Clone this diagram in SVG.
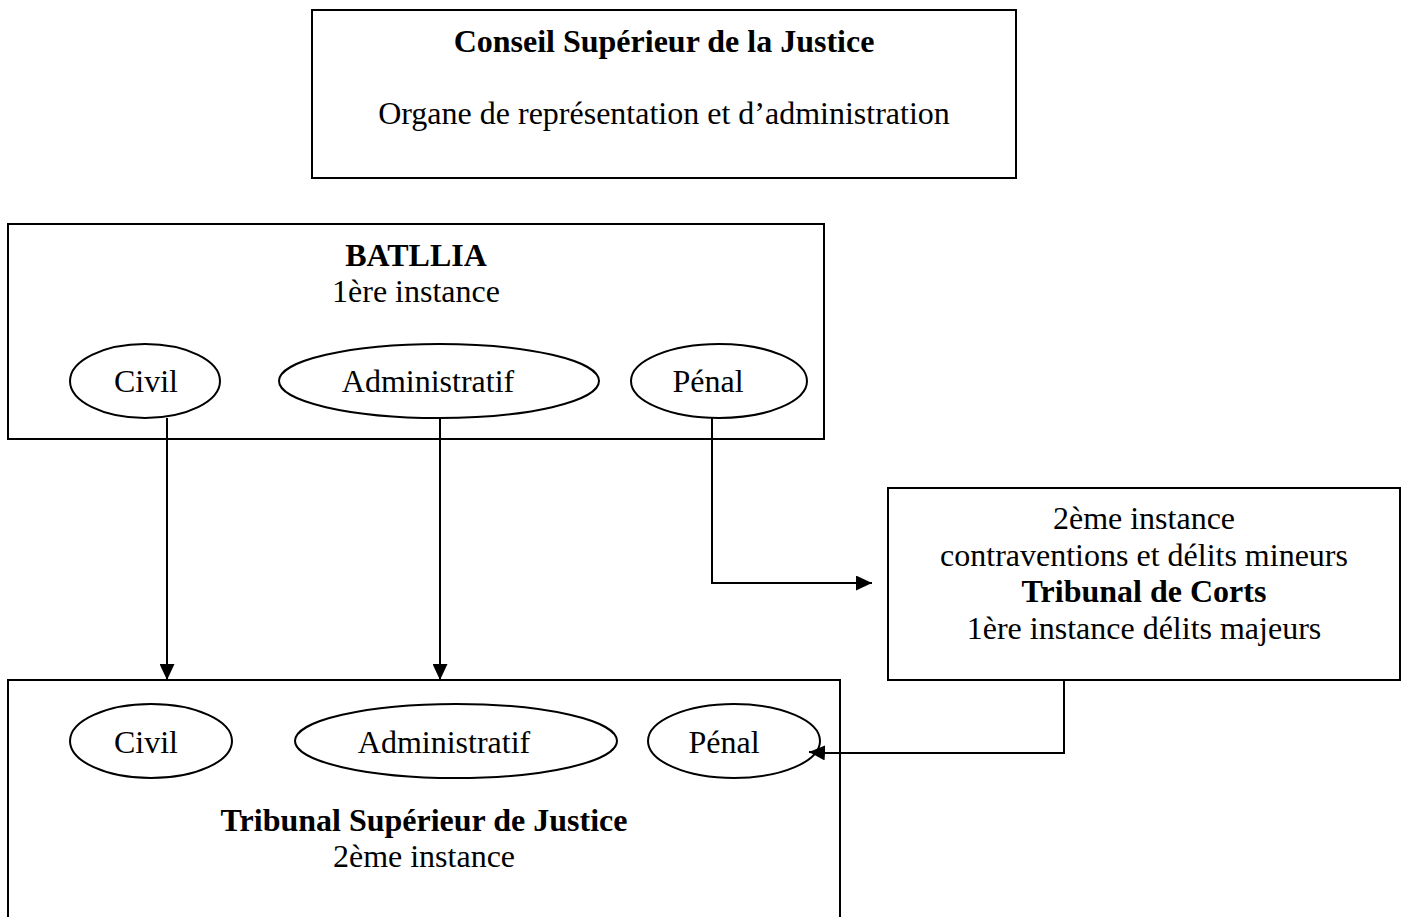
<svg xmlns="http://www.w3.org/2000/svg" width="1405" height="917" viewBox="0 0 1405 917">
<style>
.box{fill:#fff;stroke:#000;stroke-width:2}
.ell{fill:#fff;stroke:#000;stroke-width:2}
text{font-family:"Liberation Serif","Times New Roman",serif;font-size:32px;fill:#000;text-anchor:middle}
.b{font-weight:bold}
.con{fill:none;stroke:#000;stroke-width:2}
</style>
<defs>
<marker id="arr" viewBox="0 0 16 15" refX="16" refY="7.5" markerWidth="16" markerHeight="15" markerUnits="userSpaceOnUse" orient="auto">
<path d="M0,0 L16,7.5 L0,15 z" fill="#000"/>
</marker>
</defs>
<rect width="1405" height="917" fill="#fff"/>
<g id="conseil">
<rect class="box" x="312" y="10" width="704" height="168"/>
<text class="b" x="664" y="52">Conseil Supérieur de la Justice</text>
<text x="664" y="124">Organe de représentation et d’administration</text>
</g>
<g id="batllia">
<rect class="box" x="8" y="224" width="816" height="215"/>
<text class="b" x="416" y="266">BATLLIA</text>
<text x="416" y="302">1ère instance</text>
</g>
<g id="batllia-civil">
<ellipse class="ell" cx="145" cy="381" rx="75" ry="37"/>
<text x="146" y="392">Civil</text>
</g>
<g id="batllia-admin">
<ellipse class="ell" cx="439" cy="381" rx="160" ry="37"/>
<text x="428" y="392">Administratif</text>
</g>
<g id="batllia-penal">
<ellipse class="ell" cx="719" cy="381" rx="88" ry="37"/>
<text x="708" y="392">Pénal</text>
</g>
<g id="corts">
<rect class="box" x="888" y="488" width="512" height="192"/>
<text x="1144" y="529">2ème instance</text>
<text x="1144" y="566">contraventions et délits mineurs</text>
<text class="b" x="1144" y="602">Tribunal de Corts</text>
<text x="1144" y="639">1ère instance délits majeurs</text>
</g>
<g id="tsj">
<rect class="box" x="8" y="680" width="832" height="250"/>
<text class="b" x="424" y="831">Tribunal Supérieur de Justice</text>
<text x="424" y="867">2ème instance</text>
</g>
<g id="tsj-civil">
<ellipse class="ell" cx="151" cy="741" rx="81" ry="37"/>
<text x="146" y="753">Civil</text>
</g>
<g id="tsj-admin">
<ellipse class="ell" cx="456" cy="741" rx="161" ry="37"/>
<text x="444" y="753">Administratif</text>
</g>
<g id="tsj-penal">
<ellipse class="ell" cx="734" cy="741" rx="86" ry="37"/>
<text x="724" y="753">Pénal</text>
</g>
<g id="connectors">
<path class="con" d="M167,418 V680" marker-end="url(#arr)"/>
<path class="con" d="M440,418 V680" marker-end="url(#arr)"/>
<path class="con" d="M712,418 V583 H872" marker-end="url(#arr)"/>
<path class="con" d="M1064,680 V753 H826 L809,752" marker-end="url(#arr)"/>
</g>
</svg>
